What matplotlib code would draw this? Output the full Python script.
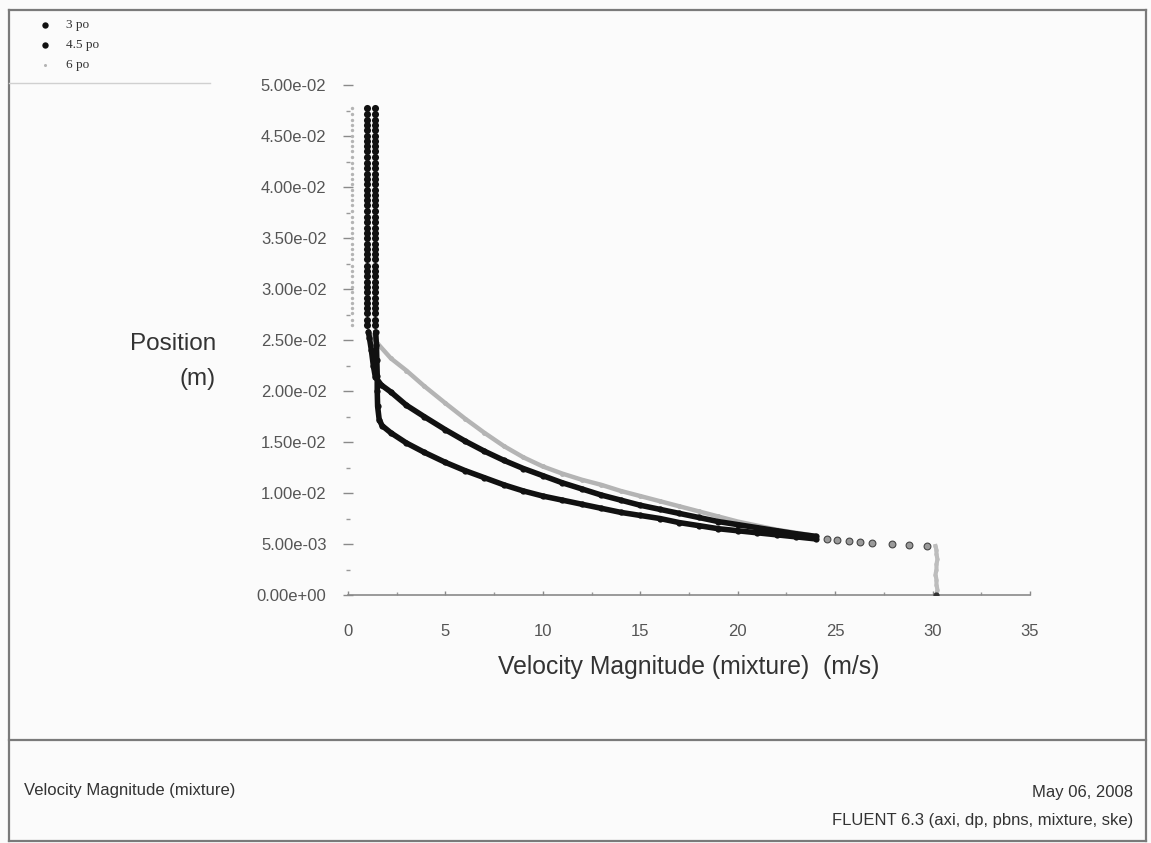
import matplotlib
matplotlib.use("Agg")
import matplotlib.pyplot as plt
from matplotlib.lines import Line2D

# ---------------- data (position in m, velocity in m/s) ----------------
series_names = ["3 po", "4.5 po", "6 po"]

# upper column of nodes (position, m)
pos_column = [0.0477, 0.0472, 0.0466, 0.0461, 0.0456, 0.0450, 0.0445, 0.0440,
              0.0435, 0.0429, 0.0424, 0.0419, 0.0413, 0.0408, 0.0403, 0.0397,
              0.0392, 0.0387, 0.0382, 0.0376, 0.0371, 0.0366, 0.0360, 0.0355,
              0.0350, 0.0344, 0.0339, 0.0334, 0.0329, 0.0323, 0.0318, 0.0313,
              0.0307, 0.0302, 0.0297, 0.0291, 0.0286, 0.0281, 0.0276, 0.0270,
              0.0265]
vel_column_3po = [1.40] * len(pos_column)
vel_column_45po = [1.00] * len(pos_column)
vel_column_6po = [0.22] * len(pos_column)

# 3 po profile below the column
vel_3po = [1.42, 1.46, 1.48, 1.50, 1.50, 1.52, 1.60, 1.75, 2.2, 3.0, 3.9, 5.0,
           6.0, 7.0, 8.0, 9.0, 10.0, 11.0, 12.0, 13.0, 14.0, 15.0, 16.0, 17.0,
           18.0, 19.0, 20.0, 21.0, 22.0, 23.0, 24.0]
pos_3po = [0.0258, 0.0245, 0.0230, 0.0215, 0.0200, 0.0185, 0.0172, 0.0166,
           0.0159, 0.0149, 0.0140, 0.0130, 0.0122, 0.0115, 0.0108, 0.0102,
           0.0097, 0.0093, 0.0089, 0.0085, 0.0081, 0.0078, 0.0075, 0.0071,
           0.0068, 0.0065, 0.0063, 0.0061, 0.0059, 0.0057, 0.0055]

# 4.5 po profile below the column
vel_45po = [1.05, 1.10, 1.20, 1.30, 1.40, 1.70, 2.2, 3.0, 3.9, 5.0, 6.0, 7.0,
            8.0, 9.0, 10.0, 11.0, 12.0, 13.0, 14.0, 15.0, 16.0, 17.0, 18.0,
            19.0, 20.0, 21.0, 22.0, 23.0, 24.0]
pos_45po = [0.0258, 0.0252, 0.0240, 0.0225, 0.0214, 0.0206, 0.0199, 0.0186,
            0.0175, 0.0162, 0.0151, 0.0141, 0.0132, 0.0124, 0.0117, 0.0110,
            0.0104, 0.0098, 0.0093, 0.0088, 0.0084, 0.0080, 0.0076, 0.0072,
            0.0069, 0.0066, 0.0063, 0.0060, 0.00575]

# 6 po profile below the column
vel_6po = [1.20, 1.50, 2.2, 3.0, 3.9, 5.0, 6.0, 7.0, 8.0, 9.0, 10.0, 11.0,
           12.0, 13.0, 14.0, 15.0, 16.0, 17.0, 18.0, 19.0, 20.0, 21.0, 22.0,
           23.0, 24.0]
pos_6po = [0.0255, 0.0247, 0.0232, 0.0220, 0.0205, 0.0188, 0.0173, 0.0159,
           0.0146, 0.0135, 0.0126, 0.0119, 0.0113, 0.0108, 0.0102, 0.0097,
           0.0092, 0.0087, 0.0082, 0.0077, 0.0072, 0.0068, 0.0064, 0.0061,
           0.0058]

# sparse nodes near the outlet (shared by the three profiles)
vel_tail = [24.6, 25.1, 25.7, 26.3, 26.9, 27.9, 28.8, 29.7]
pos_tail = [0.00545, 0.00535, 0.00525, 0.00520, 0.00510, 0.00500, 0.00490, 0.00480]

# wall nodes at the outlet
vel_wall = [30.15, 30.2, 30.2, 30.25, 30.2, 30.2, 30.15, 30.2, 30.2, 30.25, 30.2]
pos_wall = [0.0048, 0.0044, 0.0040, 0.0035, 0.0030, 0.0025, 0.0020, 0.0015,
            0.0010, 0.0005, 0.0000]

x_ticks = [0, 5, 10, 15, 20, 25, 30, 35]
y_ticks = [0.0, 0.005, 0.01, 0.015, 0.02, 0.025, 0.03, 0.035, 0.04, 0.045, 0.05]
y_tick_labels = ["0.00e+00", "5.00e-03", "1.00e-02", "1.50e-02", "2.00e-02",
                 "2.50e-02", "3.00e-02", "3.50e-02", "4.00e-02", "4.50e-02",
                 "5.00e-02"]

# ---------------- figure ----------------
W, H = 1151, 843
fig = plt.figure(figsize=(W / 100, H / 100), dpi=100)
fig.patch.set_facecolor("#fbfbfb")

REG = ["Liberation Sans", "DejaVu Sans"]


def fx(px):
    return px / W


def fy(py):
    return 1 - py / H


ax = fig.add_axes([fx(348), fy(595), fx(1030) - fx(348), fy(85) - fy(595)])
ax.set_facecolor("#fbfbfb")

black = "#111111"
grey = "#b4b4b4"

# columns (scatter)
h3 = ax.scatter(vel_column_3po, pos_column, s=26, color=black, lw=0, zorder=4)
h45 = ax.scatter(vel_column_45po, pos_column, s=26, color=black, lw=0, zorder=4)
h6 = ax.scatter(vel_column_6po, pos_column, s=6, color=grey, lw=0, zorder=3)

# dense profiles
ax.plot(vel_6po, pos_6po, color=grey, lw=3.2, marker="o", ms=3.5, mew=0,
        solid_capstyle="round", zorder=3)
ax.plot(vel_45po, pos_45po, color=black, lw=4.0, marker="o", ms=4.5, mew=0,
        solid_capstyle="round", zorder=4)
ax.plot(vel_3po, pos_3po, color=black, lw=4.0, marker="o", ms=4.5, mew=0,
        solid_capstyle="round", zorder=4)

# sparse tail nodes
ax.scatter(vel_tail, pos_tail, s=24, facecolor="#9a9a9a", edgecolor="#444444",
           lw=0.8, zorder=5)

# wall nodes
ax.plot(vel_wall, pos_wall, color="#bdbdbd", lw=3.0, marker="o", ms=3, mew=0,
        zorder=3)
ax.scatter([vel_wall[-1]], [pos_wall[-1]], s=12, color="#333333", zorder=6)

ax.set_xlim(0, 35)
ax.set_ylim(0, 0.05)
ax.set_xticks(x_ticks)
ax.set_xticklabels([str(v) for v in x_ticks])
ax.set_yticks(y_ticks)
ax.set_yticklabels(y_tick_labels)
ax.set_xticks([2.5 + 5 * i for i in range(7)], minor=True)
ax.set_yticks([0.0025 + 0.005 * i for i in range(10)], minor=True)

for s in ["top", "right", "left"]:
    ax.spines[s].set_visible(False)
ax.spines["bottom"].set_color("#8a8a8a")
ax.spines["bottom"].set_linewidth(1.2)

ax.tick_params(axis="y", which="major", length=7, width=1.0, color="#8a8a8a",
               direction="inout", pad=12, labelsize=12, labelcolor="#555555")
ax.tick_params(axis="y", which="minor", length=3, width=1.0, color="#999999",
               direction="inout")
ax.tick_params(axis="x", which="major", length=3, width=1.0, color="#8a8a8a",
               direction="in", pad=21, labelsize=12, labelcolor="#555555")
ax.tick_params(axis="x", which="minor", length=2, width=1.0, color="#999999",
               direction="in")
for lab in ax.get_xticklabels() + ax.get_yticklabels():
    lab.set_family(REG)

# axis titles
fig.text(fx(216), fy(344), "Position", ha="right", va="center",
         fontsize=17.5, family=REG, color="#333333")
fig.text(fx(216), fy(379), "(m)", ha="right", va="center",
         fontsize=17.5, family=REG, color="#333333")
fig.text(fx(689), fy(667), "Velocity Magnitude (mixture)  (m/s)", ha="center",
         va="center", fontsize=17.8, family=REG, color="#333333")

# legend
leg = fig.legend([h3, h45, h6], series_names, loc="upper left",
                 bbox_to_anchor=(fx(20), fy(7)), frameon=False,
                 prop={"family": "Liberation Serif", "size": 9.5},
                 handletextpad=0.55, labelspacing=0.6, scatterpoints=1,
                 markerscale=0.9)
for t in leg.get_texts():
    t.set_color("#333333")

# frame lines
frame_kw = dict(transform=fig.transFigure, color="#7a7a7a", lw=1.6)
fig.add_artist(Line2D([fx(9), fx(1146)], [fy(10), fy(10)], **frame_kw))
fig.add_artist(Line2D([fx(9), fx(1146)], [fy(841), fy(841)], **frame_kw))
fig.add_artist(Line2D([fx(9), fx(9)], [fy(10), fy(841)], **frame_kw))
fig.add_artist(Line2D([fx(1146), fx(1146)], [fy(10), fy(841)], **frame_kw))
fig.add_artist(Line2D([fx(9), fx(1146)], [fy(740), fy(740)], **frame_kw))
fig.add_artist(Line2D([fx(9), fx(210)], [fy(83), fy(83)],
                      transform=fig.transFigure, color="#d0d0d0", lw=1.0))

# footer
fig.text(fx(24), fy(790), "Velocity Magnitude (mixture)", ha="left", va="center",
         fontsize=12, family=REG, color="#333333")
fig.text(fx(1133), fy(792), "May 06, 2008", ha="right", va="center",
         fontsize=12, family=REG, color="#333333")
fig.text(fx(1133), fy(820), "FLUENT 6.3 (axi, dp, pbns, mixture, ske)",
         ha="right", va="center", fontsize=12, family=REG,
         color="#333333")

fig.savefig("out.png", dpi=100, facecolor=fig.get_facecolor())
